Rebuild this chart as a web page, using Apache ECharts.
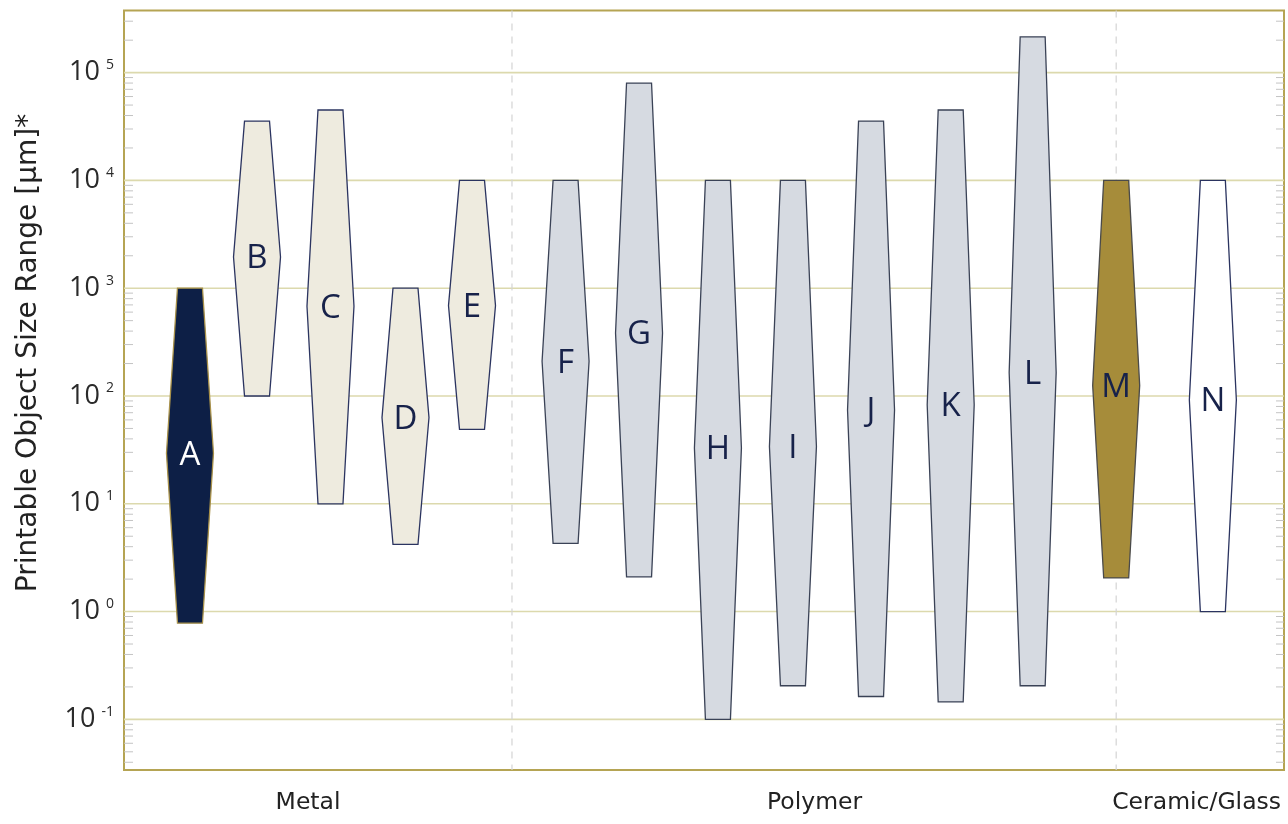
<!DOCTYPE html>
<html><head><meta charset="utf-8">
<script src="https://cdn.jsdelivr.net/npm/echarts@6/dist/echarts.min.js"></script>
<style>html,body{margin:0;padding:0;background:#fff}#c{width:1288px;height:824px}</style>
</head><body><div id="c"></div>
<script>
// ---------- data ----------
const shapeNames = ['A','B','C','D','E','F','G','H','I','J','K','L','M','N'];
const shapeX     = [0.853, 1.72, 2.67, 3.64, 4.50, 5.71, 6.66, 7.68, 8.65, 9.66, 10.69, 11.75, 12.83, 14.08];
const sizeMax    = [1000, 35500, 45000, 1000, 10000, 10000, 80000, 10000, 10000, 35500, 45000, 215000, 10000, 10000];
const sizeMid    = [29.5, 1950, 680, 63, 690, 210, 385, 33, 34, 74, 83, 165, 125, 92];
const sizeMin    = [0.78, 100, 10, 4.2, 49, 4.3, 2.1, 0.1, 0.205, 0.163, 0.145, 0.205, 2.05, 1];
const shapeClass = ['dark','metal','metal','metal','metal','polymer','polymer','polymer','polymer','polymer','polymer','polymer','ceramic','glass'];
const groupNames    = ['Metal', 'Polymer', 'Ceramic/Glass'];
const groupLabelX   = [2.38, 8.93, 13.87];
const groupDividerX = [5.017, 12.83];
const yTickExponents = [-1, 0, 1, 2, 3, 4, 5];
const minorMultipliers = [2, 3, 4, 5, 6, 7, 8, 9];
const yRange = [0.0339, 377000];
const xRange = [0, 15];
const yTitle = 'Printable Object Size Range [μm]*';

// ---------- styles ----------
const FONT = '"Open Sans", "Noto Sans", sans-serif';
const WIDE = '"DejaVu Sans", "Open Sans", sans-serif';
const classStyle = {
  dark:    { fill: '#0d1f46', stroke: '#a8914a', text: '#ffffff' },
  metal:   { fill: '#eeebdf', stroke: '#2b3460', text: '#17224a' },
  polymer: { fill: '#d6dae1', stroke: '#3a4256', text: '#17224a' },
  ceramic: { fill: '#a68c3a', stroke: '#4a4a4a', text: '#17224a' },
  glass:   { fill: '#ffffff', stroke: '#2b3460', text: '#17224a' }
};

const L = Math.log10;
const yMin = L(yRange[0]), yMax = L(yRange[1]);

const minorVals = [];
for (let e = -2; e <= 6; e++) {
  minorMultipliers.forEach(k => {
    const v = L(k) + e;
    if (v > yMin && v < yMax) minorVals.push([v]);
  });
}

const shapeData = shapeNames.map((n, i) => [shapeX[i], L(sizeMax[i]), L(sizeMid[i]), L(sizeMin[i]), i]);

const chart = echarts.init(document.getElementById('c'));
chart.setOption({
  animation: false,
  backgroundColor: '#ffffff',
  grid: { left: 124, right: 4, top: 10.5, bottom: 54, show: true, borderColor: '#b5a453', borderWidth: 2, backgroundColor: '#ffffff' },
  xAxis: {
    type: 'value', min: xRange[0], max: xRange[1],
    axisLine: { show: false }, axisTick: { show: false }, splitLine: { show: false },
    axisLabel: {
      customValues: groupLabelX,
      formatter: v => groupNames[groupLabelX.indexOf(v)] || '',
      color: '#222', fontFamily: WIDE, fontSize: 23.5, margin: 21
    }
  },
  yAxis: {
    type: 'value', min: yMin, max: yMax,
    axisLine: { show: false }, axisTick: { show: false }, splitLine: { show: false },
    axisLabel: {
      customValues: yTickExponents,
      formatter: v => '{b|10}{e|' + Math.round(v) + '}',
      margin: 10,
      rich: {
        b: { fontFamily: FONT, fontSize: 27, color: '#2a2a2a' },
        e: { fontFamily: FONT, fontSize: 14, color: '#2a2a2a', padding: [0, 0, 15, 6] }
      }
    }
  },
  graphic: [{
    type: 'text', x: 29, y: 353, rotation: Math.PI / 2,
    style: { text: yTitle, fontFamily: WIDE, fontSize: 28, fill: '#222', align: 'center', verticalAlign: 'middle' }
  }],
  series: [
    { // major gridlines
      type: 'custom', z: 1, silent: true,
      data: yTickExponents.map(e => [e]),
      renderItem: (params, api) => {
        const cs = params.coordSys;
        const y = api.coord([xRange[0], api.value(0)])[1];
        return { type: 'line', shape: { x1: cs.x, y1: y, x2: cs.x + cs.width, y2: y }, style: { stroke: '#dcd9ad', lineWidth: 1.6 } };
      }
    },
    { // minor ticks both sides
      type: 'custom', z: 1, silent: true,
      data: minorVals,
      renderItem: (params, api) => {
        const cs = params.coordSys;
        const y = api.coord([xRange[0], api.value(0)])[1];
        return { type: 'group', children: [
          { type: 'line', shape: { x1: cs.x, y1: y, x2: cs.x + 9, y2: y }, style: { stroke: '#c4c4c4', lineWidth: 1 } },
          { type: 'line', shape: { x1: cs.x + cs.width - 8, y1: y, x2: cs.x + cs.width, y2: y }, style: { stroke: '#c4c4c4', lineWidth: 1 } }
        ] };
      }
    },
    { // group dividers
      type: 'custom', z: 1, silent: true,
      data: groupDividerX.map(x => [x]),
      renderItem: (params, api) => {
        const cs = params.coordSys;
        const x = api.coord([api.value(0), yMin])[0];
        return { type: 'line', shape: { x1: x, y1: cs.y, x2: x, y2: cs.y + cs.height }, style: { stroke: '#d4d4d4', lineWidth: 1.2, lineDash: [7, 6] } };
      }
    },
    { // elongated hexagons
      type: 'custom', z: 3,
      data: shapeData,
      renderItem: (params, api) => {
        const i = api.value(4);
        const st = classStyle[shapeClass[i]];
        const top = api.coord([api.value(0), api.value(1)]);
        const mid = api.coord([api.value(0), api.value(2)]);
        const bot = api.coord([api.value(0), api.value(3)]);
        const cx = top[0], hw = 12.5, ww = 23.5;
        return { type: 'group', children: [
          { type: 'polygon', shape: { points: [[cx - hw, top[1]], [cx + hw, top[1]], [cx + ww, mid[1]], [cx + hw, bot[1]], [cx - hw, bot[1]], [cx - ww, mid[1]]] },
            style: { fill: st.fill, stroke: st.stroke, lineWidth: 1.3, lineJoin: 'miter' } },
          { type: 'text', style: { text: shapeNames[i], x: cx, y: mid[1] + 2, align: 'center', verticalAlign: 'middle', fill: st.text, fontFamily: FONT, fontSize: 33 } }
        ] };
      }
    }
  ]
});
</script></body></html>
